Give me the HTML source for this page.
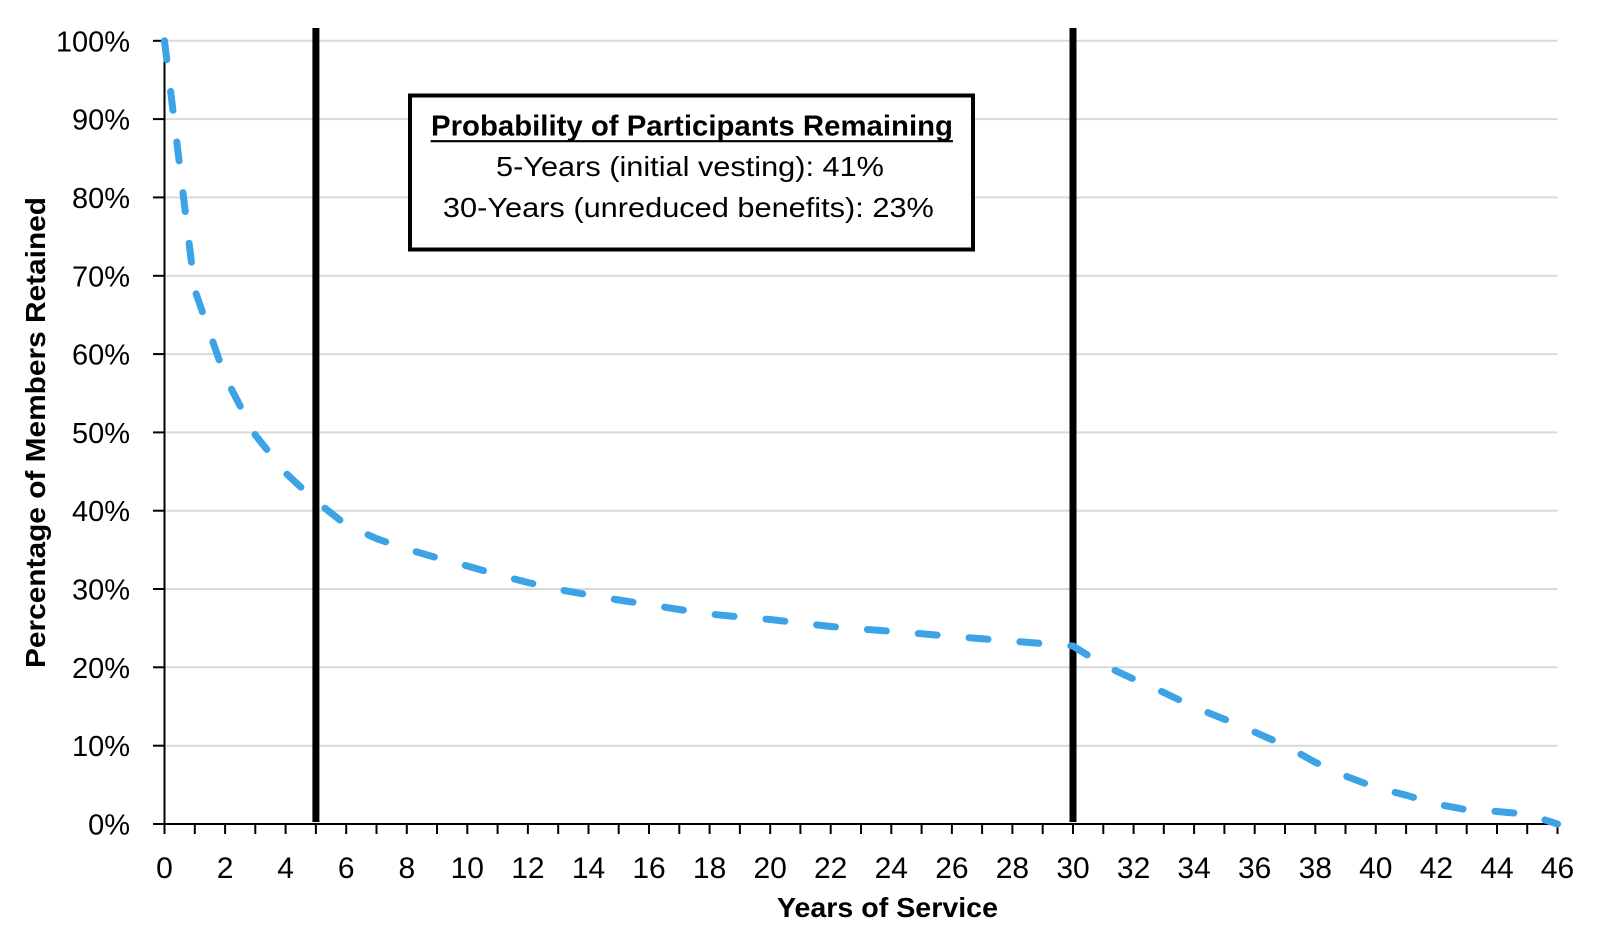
<!DOCTYPE html>
<html>
<head>
<meta charset="utf-8">
<style>
  html, body { margin: 0; padding: 0; background: #ffffff; }
  svg { display: block; }
  text { font-family: "Liberation Sans", Arial, sans-serif; fill: #000; }
</style>
</head>
<body>
<svg width="1600" height="948" viewBox="0 0 1600 948" xmlns="http://www.w3.org/2000/svg">
  <rect x="0" y="0" width="1600" height="948" fill="#ffffff"/>

  <!-- gridlines -->
  <g stroke="#d9d9d9" stroke-width="2">
    <line x1="165" y1="40.8" x2="1557.5" y2="40.8"/>
    <line x1="165" y1="119.1" x2="1557.5" y2="119.1"/>
    <line x1="165" y1="197.4" x2="1557.5" y2="197.4"/>
    <line x1="165" y1="275.8" x2="1557.5" y2="275.8"/>
    <line x1="165" y1="354.1" x2="1557.5" y2="354.1"/>
    <line x1="165" y1="432.4" x2="1557.5" y2="432.4"/>
    <line x1="165" y1="510.7" x2="1557.5" y2="510.7"/>
    <line x1="165" y1="589.0" x2="1557.5" y2="589.0"/>
    <line x1="165" y1="667.3" x2="1557.5" y2="667.3"/>
    <line x1="165" y1="745.7" x2="1557.5" y2="745.7"/>
  </g>

  <!-- axes -->
  <g stroke="#000" stroke-width="2">
    <line x1="164.5" y1="40" x2="164.5" y2="825"/>
    <line x1="153" y1="824" x2="1558.5" y2="824"/>
    <line x1="153" y1="40.8" x2="164.5" y2="40.8"/>
    <line x1="153" y1="119.1" x2="164.5" y2="119.1"/>
    <line x1="153" y1="197.4" x2="164.5" y2="197.4"/>
    <line x1="153" y1="275.8" x2="164.5" y2="275.8"/>
    <line x1="153" y1="354.1" x2="164.5" y2="354.1"/>
    <line x1="153" y1="432.4" x2="164.5" y2="432.4"/>
    <line x1="153" y1="510.7" x2="164.5" y2="510.7"/>
    <line x1="153" y1="589.0" x2="164.5" y2="589.0"/>
    <line x1="153" y1="667.3" x2="164.5" y2="667.3"/>
    <line x1="153" y1="745.7" x2="164.5" y2="745.7"/>
  </g>
  <path stroke="#000" stroke-width="2" fill="none" d="
    M164.5 824V834 M194.8 824V834 M225.1 824V834 M255.3 824V834 M285.6 824V834
    M315.9 824V834 M346.2 824V834 M376.5 824V834 M406.8 824V834 M437.0 824V834
    M467.3 824V834 M497.6 824V834 M527.9 824V834 M558.2 824V834 M588.5 824V834
    M618.7 824V834 M649.0 824V834 M679.3 824V834 M709.6 824V834 M739.9 824V834
    M770.2 824V834 M800.4 824V834 M830.7 824V834 M861.0 824V834 M891.3 824V834
    M921.6 824V834 M951.9 824V834 M982.1 824V834 M1012.4 824V834 M1042.7 824V834
    M1073.0 824V834 M1103.3 824V834 M1133.6 824V834 M1163.8 824V834 M1194.1 824V834
    M1224.4 824V834 M1254.7 824V834 M1285.0 824V834 M1315.3 824V834 M1345.5 824V834
    M1375.8 824V834 M1406.1 824V834 M1436.4 824V834 M1466.7 824V834 M1497.0 824V834
    M1527.2 824V834 M1557.5 824V834"/>

  <!-- vertical markers -->
  <rect x="312.4" y="28" width="7" height="794" fill="#000"/>
  <rect x="1069.5" y="28" width="7" height="794" fill="#000"/>

  <!-- data series -->
  <polyline fill="none" stroke="#3ba3e6" stroke-width="7" stroke-linecap="round" stroke-linejoin="round"
    stroke-dasharray="19 32"
    points="164.5,40.8 194.8,290 225.1,377 255.3,435 285.6,473 315.9,501 346.2,525 376.5,538.6 406.8,549 437.0,557.8 467.3,566 497.6,574.7 527.9,582.5 558.2,589.5 588.5,594.8 618.7,600 649.0,604.7 679.3,609.5 709.6,614 739.9,617 770.2,619.5 800.4,623 830.7,626.5 861.0,629 891.3,631.3 921.6,633.8 951.9,636.4 982.1,638.8 1012.4,641.2 1042.7,643.6 1073.0,646 1103.3,665 1133.6,679 1163.8,692.5 1194.1,707 1224.4,719.2 1254.7,732 1285.0,745.5 1315.3,762.3 1345.5,776 1375.8,787.5 1406.1,795.2 1436.4,804 1466.7,809.8 1497.0,811.5 1527.2,814.2 1557.5,824"/>

  <!-- y tick labels -->
  <g font-size="29" text-anchor="end">
    <text x="130" y="51.3">100%</text>
    <text x="130" y="129.6">90%</text>
    <text x="130" y="207.9">80%</text>
    <text x="130" y="286.3">70%</text>
    <text x="130" y="364.6">60%</text>
    <text x="130" y="442.9">50%</text>
    <text x="130" y="521.2">40%</text>
    <text x="130" y="599.5">30%</text>
    <text x="130" y="677.8">20%</text>
    <text x="130" y="756.2">10%</text>
    <text x="130" y="834.5">0%</text>
  </g>

  <!-- x tick labels -->
  <g font-size="30" text-anchor="middle">
    <text x="164.5" y="878">0</text>
    <text x="225.1" y="878">2</text>
    <text x="285.6" y="878">4</text>
    <text x="346.2" y="878">6</text>
    <text x="406.8" y="878">8</text>
    <text x="467.3" y="878">10</text>
    <text x="527.9" y="878">12</text>
    <text x="588.5" y="878">14</text>
    <text x="649.0" y="878">16</text>
    <text x="709.6" y="878">18</text>
    <text x="770.2" y="878">20</text>
    <text x="830.7" y="878">22</text>
    <text x="891.3" y="878">24</text>
    <text x="951.9" y="878">26</text>
    <text x="1012.4" y="878">28</text>
    <text x="1073.0" y="878">30</text>
    <text x="1133.6" y="878">32</text>
    <text x="1194.1" y="878">34</text>
    <text x="1254.7" y="878">36</text>
    <text x="1315.3" y="878">38</text>
    <text x="1375.8" y="878">40</text>
    <text x="1436.4" y="878">42</text>
    <text x="1497.0" y="878">44</text>
    <text x="1557.5" y="878">46</text>
  </g>

  <!-- axis titles -->
  <text x="887.5" y="917" font-size="28" font-weight="bold" text-anchor="middle" textLength="221" lengthAdjust="spacingAndGlyphs">Years of Service</text>
  <text transform="translate(45,432.5) rotate(-90)" font-size="28" font-weight="bold" text-anchor="middle" textLength="471" lengthAdjust="spacingAndGlyphs">Percentage of Members Retained</text>

  <!-- annotation box -->
  <rect x="410" y="95.5" width="563" height="154" fill="#ffffff" stroke="#000" stroke-width="4"/>
  <text x="692" y="135.5" font-size="29" font-weight="bold" text-anchor="middle" textLength="522" lengthAdjust="spacingAndGlyphs">Probability of Participants Remaining</text>
  <line x1="430.6" y1="141.2" x2="953" y2="141.2" stroke="#000" stroke-width="2.2"/>
  <text x="690" y="176" font-size="28" text-anchor="middle" textLength="388" lengthAdjust="spacingAndGlyphs">5-Years (initial vesting): 41%</text>
  <text x="688.4" y="217" font-size="28" text-anchor="middle" textLength="491" lengthAdjust="spacingAndGlyphs">30-Years (unreduced benefits): 23%</text>
</svg>
</body>
</html>
